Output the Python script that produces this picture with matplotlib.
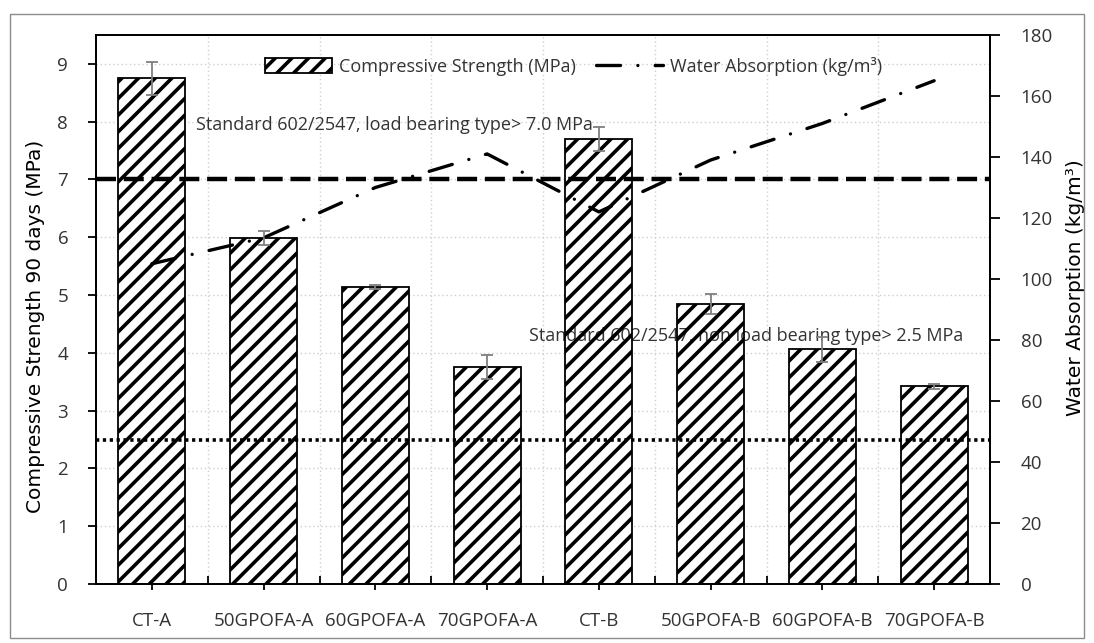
import matplotlib
matplotlib.use("Agg")
import numpy as np
import matplotlib.pyplot as plt
from matplotlib.patches import Patch, Rectangle
from matplotlib.lines import Line2D

categories = ["CT-A", "50GPOFA-A", "60GPOFA-A", "70GPOFA-A",
              "CT-B", "50GPOFA-B", "60GPOFA-B", "70GPOFA-B"]
strength = [8.75, 5.98, 5.14, 3.75, 7.70, 4.84, 4.06, 3.42]       # MPa
strength_err = [0.28, 0.12, 0.03, 0.21, 0.21, 0.17, 0.21, 0.04]
water = [105, 113.5, 130, 141, 122, 139, 151, 165]                 # kg/m3
std_load = 7.0
std_nonload = 2.5
note_load = "Standard 602/2547, load bearing type> 7.0 MPa"
note_nonload = "Standard 602/2547, non load bearing type> 2.5 MPa"

TXT = "#333333"
DASHDOT = (0, (7.2, 5.2, 0.01, 5.2))
HATCH_LW = 2.6

plt.rcParams["font.family"] = ["Open Sans", "DejaVu Sans"]
plt.rcParams["hatch.linewidth"] = HATCH_LW
plt.rcParams["hatch.color"] = "black"

fig = plt.figure(figsize=(10.94, 6.43), dpi=100)
ax = fig.add_axes([96 / 1094, 59 / 643, 894 / 1094, 549 / 643])

x = np.arange(len(categories))

# white fill under the text, hatch on top of it
ax.bar(x, strength, width=0.6, color="white", edgecolor="none", zorder=2)
ax.text(3.375, 4.29, note_nonload, fontsize=13, color=TXT, va="center", zorder=3)
ax.text(0.395, 7.94, note_load, fontsize=13, color=TXT, va="center", zorder=3)
bars = ax.bar(x, strength, width=0.6, facecolor="none", edgecolor="black",
              hatch="//", linewidth=1.3, zorder=4)
for b in bars:
    if hasattr(b, "set_hatch_linewidth"):
        b.set_hatch_linewidth(HATCH_LW)
ax.errorbar(x, strength, yerr=strength_err, fmt="none", ecolor="#7f7f7f",
            elinewidth=1.3, capsize=4, capthick=1.3, zorder=5)

ax.axhline(std_load, color="black", lw=3.2, linestyle=(0, (4.5, 1.75)), zorder=6)
ax.axhline(std_nonload, color="black", lw=2.6, linestyle=(0, (0.9, 1.0)), zorder=6)

ax.set_xlim(-0.5, 7.5)
ax.set_ylim(0, 9.5)
ax.set_yticks(range(10))
ax.set_xticks(x)
ax.set_xticklabels(categories)
ax.set_xticks(np.arange(0.5, 7), minor=True)
ax.set_axisbelow(True)
ax.grid(axis="y", which="major", linestyle=(0, (1, 2)), color="#cfcfcf", lw=1)
ax.grid(axis="x", which="minor", linestyle=(0, (1, 2)), color="#cfcfcf", lw=1)

ax.tick_params(axis="y", direction="out", length=6, width=1.3, pad=14,
               labelsize=13.5, labelcolor=TXT)
ax.tick_params(axis="x", which="major", direction="out", length=4.5, width=1.3,
               pad=16, labelsize=13.5, labelcolor=TXT)
ax.tick_params(axis="x", which="minor", direction="in", length=6, width=1.3)
for s in ax.spines.values():
    s.set_linewidth(1.3)
    s.set_color("black")

ax.set_ylabel("Compressive Strength 90 days (MPa)", fontsize=14.5,
              family="DejaVu Sans", color="black")
ax.yaxis.set_label_coords(-0.057, 0.47)

ax2 = ax.twinx()
ax2.plot(x, water, color="black", lw=2.4, linestyle=DASHDOT,
         dash_capstyle="round")
ax2.set_ylim(0, 180)
ax2.set_yticks(range(0, 181, 20))
ax2.tick_params(axis="y", direction="out", length=7, width=1.3, pad=15,
                labelsize=13.5, labelcolor=TXT)
ax2.set_ylabel("Water Absorption (kg/m³)", fontsize=14.5,
               family="DejaVu Sans", color="black")
ax2.yaxis.set_label_coords(1.085, 0.54)
for s in ax2.spines.values():
    s.set_linewidth(1.3)

leg_patch = Patch(facecolor="white", edgecolor="black", hatch="//", linewidth=1.3)
if hasattr(leg_patch, "set_hatch_linewidth"):
    leg_patch.set_hatch_linewidth(HATCH_LW)
handles = [leg_patch,
           Line2D([], [], color="black", lw=2.4, linestyle=DASHDOT,
                  dash_capstyle="round")]
labels = ["Compressive Strength (MPa)", "Water Absorption (kg/m³)"]
leg = ax2.legend(handles, labels, loc="center left", bbox_to_anchor=(0.189, 0.943),
                 ncol=2, frameon=False, fontsize=13, handlelength=3.7,
                 handleheight=0.95, handletextpad=0.4, columnspacing=1.1,
                 borderpad=0, borderaxespad=0)
for t in leg.get_texts():
    t.set_color(TXT)

fig.add_artist(Rectangle((10 / 1094, 5 / 643), 1074 / 1094, 624 / 643,
                         transform=fig.transFigure, fill=False,
                         edgecolor="#8c8c8c", lw=1))

fig.savefig("out.png", dpi=100)
